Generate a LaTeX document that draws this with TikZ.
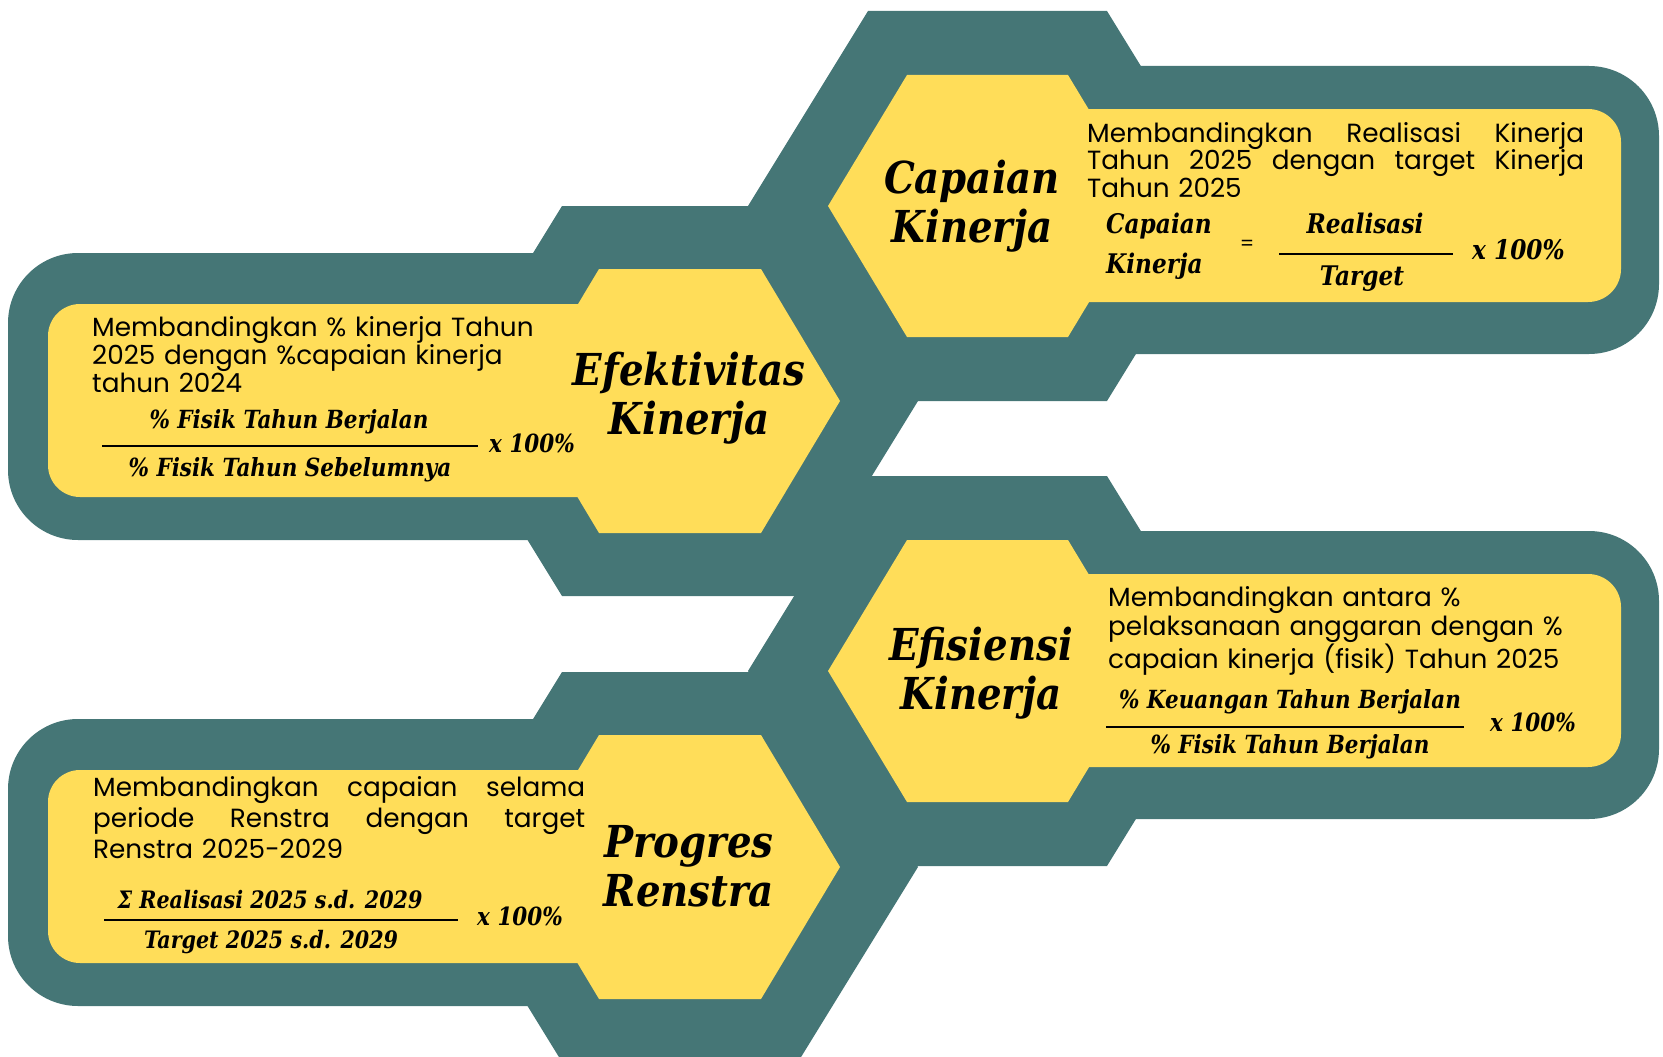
\documentclass[tikz,border=0pt]{standalone}
\usepackage{fontspec}
\setmainfont{Poppins}
\newfontfamily\titlefont{DejaVu Serif}[FakeStretch=0.88]
\newfontfamily\formfont{DejaVu Serif}[FakeStretch=0.86]
\definecolor{tealc}{RGB}{69,118,118}
\definecolor{yelc}{RGB}{255,221,89}
\tikzset{
  tealfill/.style={fill=tealc},
  yelfill/.style={fill=yelc},
  titletext/.style={font=\titlefont\bfseries\itshape\fontsize{44}{49.5}\selectfont, text width=240pt, align=center, inner sep=0pt, anchor=base},
  bodytext/.style={font=\fontsize{26.3}{28}\selectfont, inner sep=0pt, anchor=base west, align=left},
  formtext/.style={font=\formfont\bfseries\itshape\fontsize{25}{40}\selectfont, inner sep=0pt, anchor=base},
  bigform/.style={font=\formfont\bfseries\itshape\fontsize{27}{40}\selectfont},
  smallform/.style={font=\formfont\bfseries\itshape\fontsize{24}{40}\selectfont},
  fracline/.style={line width=2pt, black},
}
\begin{document}
\begin{tikzpicture}[x=1pt,y=-1pt]
\useasboundingbox (0,0) rectangle (1663,1057);
\clip (0,0) rectangle (1663,1057);
% ---------- teal backgrounds ----------
% Capaian
\fill[tealfill] (868,11) -- (1107,11) -- (1227,206) -- (1107,401) -- (868,401) -- (748,206) -- cycle;
\fill[tealfill, rounded corners=70pt] (950,66) rectangle (1659,354);
% Efisiensi
\fill[tealfill] (868,476) -- (1107,476) -- (1227,671) -- (1107,866) -- (868,866) -- (748,671) -- cycle;
\fill[tealfill, rounded corners=70pt] (950,531) rectangle (1659,819);
% Efektivitas
\fill[tealfill] (562,206) -- (798,206) -- (918,401) -- (798,596) -- (562,596) -- (442,401) -- cycle;
\fill[tealfill, rounded corners=70pt] (8,253) rectangle (700,540);
% Progres
\fill[tealfill] (562,672) -- (798,672) -- (918,867) -- (798,1062) -- (562,1062) -- (442,867) -- cycle;
\fill[tealfill, rounded corners=70pt] (8,719) rectangle (700,1006);
% ---------- yellow panels ----------
\fill[yelfill] (907,75) -- (1068,75) -- (1147,206) -- (1068,337) -- (907,337) -- (828,206) -- cycle;
\fill[yelfill, rounded corners=33pt] (1000,109) rectangle (1621,302);
\fill[yelfill] (907,540) -- (1068,540) -- (1147,671) -- (1068,802) -- (907,802) -- (828,671) -- cycle;
\fill[yelfill, rounded corners=33pt] (1000,574) rectangle (1621,767);
\fill[yelfill] (599,269) -- (761,269) -- (840,401) -- (761,533) -- (599,533) -- (520,401) -- cycle;
\fill[yelfill, rounded corners=32pt] (48,304) rectangle (680,497);
\fill[yelfill] (599,735) -- (761,735) -- (840,867) -- (761,999) -- (599,999) -- (520,867) -- cycle;
\fill[yelfill, rounded corners=32pt] (48,770) rectangle (680,963);
% ---------- titles ----------
\node[titletext] (captitle) at (972,193) {Capaian\\Kinerja};
\node[titletext] (efektitle) at (689,385) {Efektivitas\\Kinerja};
\node[titletext] (efistitle) at (981,660) {Efisiensi\\Kinerja};
\node[titletext] (progtitle) at (689,857) {Progres\\Renstra};
% ---------- descriptions ----------
\node[bodytext, text width=500pt, font=\fontsize{26.3}{27.5}\selectfont] (capdesc) at (1087,142)
  {\makebox[497pt][l]{Membandingkan\hfill Realisasi\hfill Kinerja}\\\makebox[497pt][l]{Tahun\hfill 2025\hfill dengan\hfill target\hfill Kinerja}\\Tahun 2025};
\node[bodytext, text width=480pt] (efekdesc) at (92,336)
  {Membandingkan \% kinerja Tahun\\2025 dengan \%capaian kinerja\\tahun 2024};
\node[bodytext, text width=500pt, font=\fontsize{26.3}{29.5}\selectfont] (efisdesc) at (1108,606)
  {Membandingkan antara \%\\pelaksanaan anggaran dengan \%\\capaian kinerja (fisik) Tahun 2025};
\node[bodytext, text width=500pt, font=\fontsize{26.3}{31}\selectfont] (progdesc) at (93,796)
  {\makebox[492pt][l]{Membandingkan\hfill capaian\hfill selama}\\\makebox[492pt][l]{periode\hfill Renstra\hfill dengan\hfill target}\\Renstra 2025-2029};
% ---------- formula: Capaian ----------
\node[formtext, bigform, anchor=base west, text width=130pt, align=left] (caplhs) at (1106,233) {Capaian\\Kinerja};
\node[inner sep=0pt, font=\fontsize{20}{24}\selectfont] (capeq) at (1247,245) {=};
\node[formtext, bigform] (capnum) at (1365,233) {Realisasi};
\coordinate (capa) at (1279,254);
\coordinate (capb) at (1453,254);
\draw[fracline] (capa) -- (capb);
\node[formtext, bigform] (capden) at (1362,285) {Target};
\node[formtext, bigform, anchor=base west] (capx) at (1472,259) {x 100\%};
% ---------- formula: Efektivitas ----------
\node[formtext] (efeknum) at (289,428) {\% Fisik Tahun Berjalan};
\coordinate (efeka) at (102,446);
\coordinate (efekb) at (478,446);
\draw[fracline] (efeka) -- (efekb);
\node[formtext] (efekden) at (290,476) {\% Fisik Tahun Sebelumnya};
\node[formtext, anchor=base west] (efekx) at (489,452) {x 100\%};
% ---------- formula: Efisiensi ----------
\node[formtext] (efisnum) at (1290,708) {\% Keuangan Tahun Berjalan};
\coordinate (efisa) at (1106,727);
\coordinate (efisb) at (1464,727);
\draw[fracline] (efisa) -- (efisb);
\node[formtext] (efisden) at (1290,753) {\% Fisik Tahun Berjalan};
\node[formtext, anchor=base west] (efisx) at (1490,731) {x 100\%};
% ---------- formula: Progres ----------
\node[formtext, smallform] (prognum) at (270,908) {Σ Realisasi 2025 s.d. 2029};
\coordinate (proga) at (104,920);
\coordinate (progb) at (458,920);
\draw[fracline] (proga) -- (progb);
\node[formtext, smallform] (progden) at (271,948) {Target 2025 s.d. 2029};
\node[formtext, anchor=base west] (progx) at (477,925) {x 100\%};
\end{tikzpicture}
\end{document}
